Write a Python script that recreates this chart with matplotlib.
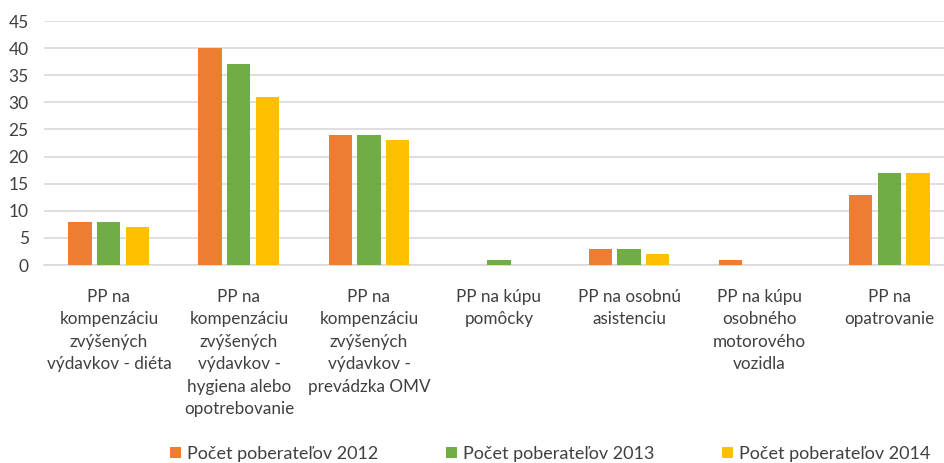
import matplotlib
matplotlib.use("Agg")
import matplotlib.pyplot as plt
import numpy as np

categories = [
    "PP na\nkompenzáciu\nzvýšených\nvýdavkov - diéta",
    "PP na\nkompenzáciu\nzvýšených\nvýdavkov -\nhygiena alebo\nopotrebovanie",
    "PP na\nkompenzáciu\nzvýšených\nvýdavkov -\nprevádzka OMV",
    "PP na kúpu\npomôcky",
    "PP na osobnú\nasistenciu",
    "PP na kúpu\nosobného\nmotorového\nvozidla",
    "PP na\nopatrovanie",
]
series_names = ["Počet poberateľov 2012", "Počet poberateľov 2013", "Počet poberateľov 2014"]
v2012 = [8, 40, 24, 0, 3, 1, 13]
v2013 = [8, 37, 24, 1, 3, 0, 17]
v2014 = [7, 31, 23, 0, 2, 0, 17]
colors = ["#ED7D31", "#70AD47", "#FFC000"]
yticks = [0, 5, 10, 15, 20, 25, 30, 35, 40, 45]

plt.rcParams['font.family'] = ['Lato', 'DejaVu Sans']
fig = plt.figure(figsize=(9.44, 4.63), dpi=100)
ax = fig.add_axes([0.0466, 0.4276, 0.964, 0.527])

x = np.arange(len(categories))
w = 0.177
off = 0.223
for i, (vals, name, c) in enumerate(zip([v2012, v2013, v2014], series_names, colors)):
    ax.bar(x + (i - 1) * off, vals, width=w, color=c, label=name, zorder=3)

ax.set_xlim(-0.5, len(categories) - 0.5)
ax.set_ylim(0, 45)
ax.set_yticks(yticks)
ax.yaxis.grid(True, color="#d9d9d9", linewidth=1.2, zorder=0)
for s in ["top", "right", "left"]:
    ax.spines[s].set_visible(False)
ax.spines["bottom"].set_color("#d9d9d9")
ax.spines["bottom"].set_linewidth(1.2)
ax.tick_params(axis="both", length=0, colors="#404040", labelsize=12.5)
ax.tick_params(axis="y", pad=11)
ax.set_xticks(x)
ax.set_xticklabels(categories, fontsize=12.3, linespacing=1.5, color="#404040")
ax.tick_params(axis="x", pad=17)

handles, labels = ax.get_legend_handles_labels()
leg = fig.legend(handles, labels, loc="center", bbox_to_anchor=(0.583, 0.02),
                 ncol=3, frameon=False, fontsize=13, handlelength=0.6, handleheight=0.6,
                 handletextpad=0.35, columnspacing=3.75)
for t in leg.get_texts():
    t.set_color("#404040")

fig.savefig("out.png", dpi=100)
